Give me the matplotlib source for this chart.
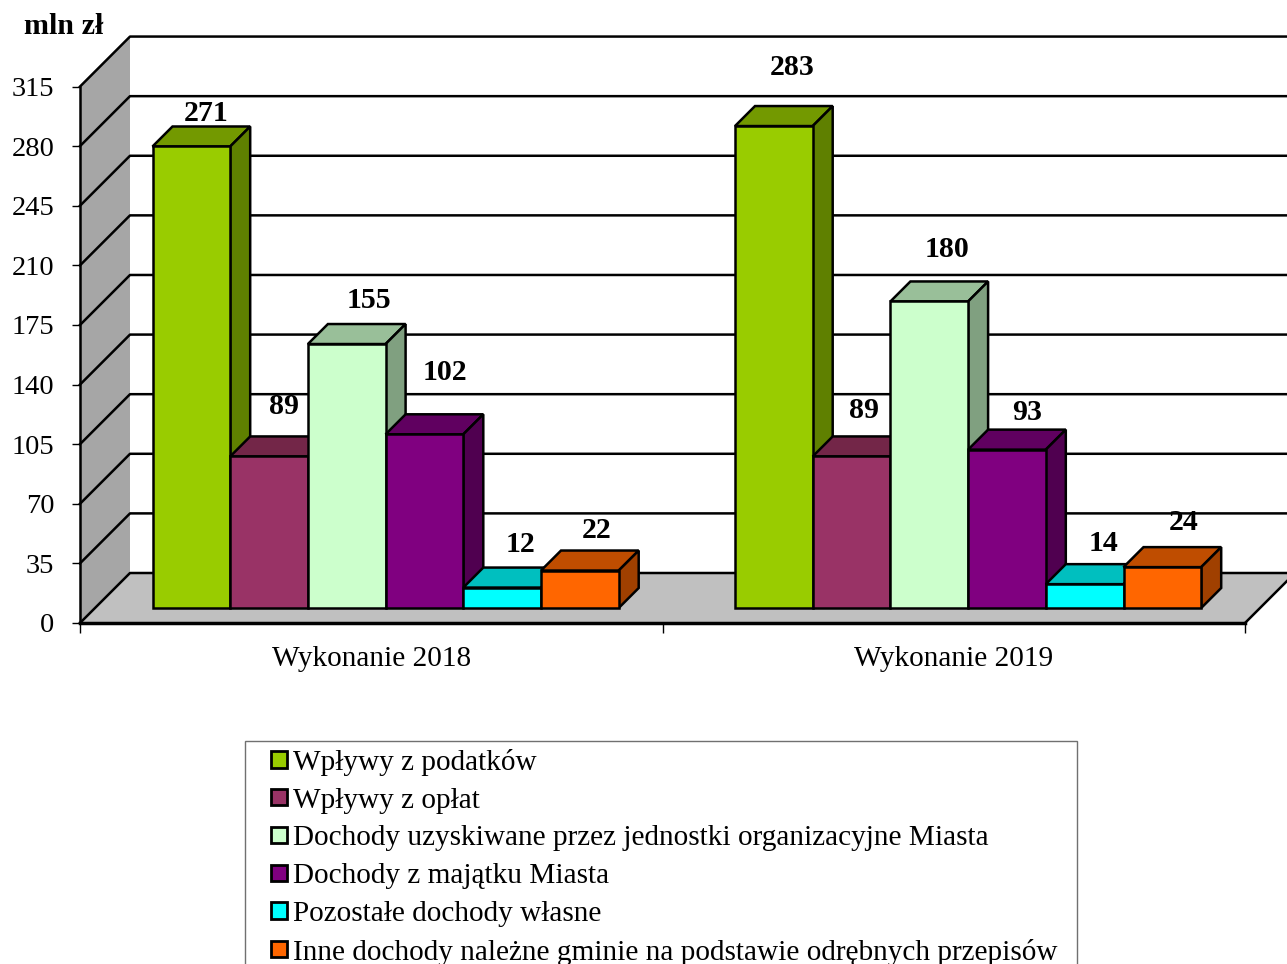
import numpy as np
import matplotlib
matplotlib.use("Agg")
import matplotlib.pyplot as plt
from matplotlib.patches import Patch, Polygon

plt.rcParams['font.family'] = ['Liberation Serif', 'DejaVu Sans']

groups = ["Wykonanie 2018", "Wykonanie 2019"]
series = ["Wpływy z podatków",
          "Wpływy z opłat",
          "Dochody uzyskiwane przez jednostki organizacyjne Miasta",
          "Dochody z majątku Miasta",
          "Pozostałe dochody własne",
          "Inne dochody należne gminie na podstawie odrębnych przepisów"]
values_2018 = [271, 89, 155, 102, 12, 22]
values_2019 = [283, 89, 180, 93, 14, 24]
yticks = [0, 35, 70, 105, 140, 175, 210, 245, 280, 315]

front = ['#99CC00', '#993366', '#CCFFCC', '#800080', '#00FFFF', '#FF6600']
top = ['#739900', '#732648', '#99BF99', '#600060', '#00BFBF', '#BF4D00']
side = ['#5F8000', '#5F1F3F', '#80A080', '#500050', '#009F9F', '#A04000']

# pixel scale of the picture, everything below is in category / value units
W, H = 1287, 964
px_x = 582.5      # px per category
px_y = 1.703      # px per value unit
x0, y0 = 80, 623  # origin in px

# label nudges in px from the middle of the bar top
label_dx = [[15, 14.5, 22, 20, 18.5, 17], [18, 12.5, 18, 20, 18.5, 21]]
label_dy = [[33, 50, 44, 62, 43, 40], [59, 46, 52, 37, 41, 45]]

fig = plt.figure(figsize=(W / 100, H / 100), dpi=100)
ax = fig.add_axes([0, 0, 1, 1])
ax.patch.set_alpha(0)
ax.set_xlim(-x0 / px_x, (W - x0) / px_x)
ax.set_ylim(-(H - y0) / px_y, y0 / px_y)

wall_dx = 50 / px_x
wall_dy = 50 / px_y
x_end = 2 + wall_dx

# back wall, side wall and floor
ax.fill([0, wall_dx, wall_dx, 0], [0, wall_dy, 315 + wall_dy, 315],
        color='#A6A6A6', lw=0, zorder=1)
ax.fill([0, wall_dx, x_end, 2], [0, wall_dy, wall_dy, 0],
        color='#C0C0C0', lw=0, zorder=1)
ax.plot([2, x_end], [0, wall_dy], color='k', lw=1.8, zorder=1.5)
for v in yticks:
    ax.plot([0, wall_dx, x_end], [v, v + wall_dy, v + wall_dy],
            color='k', lw=1.8, zorder=1.5)

# bars
bar_w = 77.7 / px_x
bar_x0 = 72.5 / px_x
base = 15 / px_y
bar_dx = 20 / px_x
bar_dy = 20 / px_y

for g, vals in enumerate([values_2018, values_2019]):
    for i, v in enumerate(vals):
        z = 3 + g * 10 + i
        xl = g + bar_x0 + i * bar_w
        xr = xl + bar_w
        t = base + v
        ax.bar(xl, v, bar_w, bottom=base, align='edge', color=front[i],
               edgecolor='k', lw=1.8, zorder=z + 0.2)
        ax.fill([xl, xl + bar_dx, xr + bar_dx, xr],
                [t, t + bar_dy, t + bar_dy, t],
                facecolor=top[i], edgecolor='k', lw=1.8, zorder=z + 0.1)
        ax.fill([xr, xr + bar_dx, xr + bar_dx, xr],
                [base, base + bar_dy, t + bar_dy, t],
                facecolor=side[i], edgecolor='k', lw=1.8, zorder=z + 0.1)
        ax.text((xl + xr) / 2 + label_dx[g][i] / px_x, t + label_dy[g][i] / px_y,
                str(v), ha='center', va='center', fontsize=21.5,
                fontweight='bold', color='k', zorder=40)

# axes
for s in ['top', 'right']:
    ax.spines[s].set_visible(False)
ax.spines['left'].set_position(('data', 0))
ax.spines['left'].set_bounds(0, 315)
ax.spines['left'].set_linewidth(1.8)
ax.spines['bottom'].set_position(('data', 0))
ax.spines['bottom'].set_bounds(0, 2)
ax.spines['bottom'].set_linewidth(2.5)
ax.spines['bottom'].set_zorder(2)
ax.set_yticks(yticks)
ax.set_xticks([0, 1, 2])
ax.set_xticklabels([])
ax.set_xticks([0.5, 1.5], minor=True)
ax.set_xticklabels(groups, minor=True, fontsize=21.1)
ax.tick_params(axis='x', which='minor', length=0, pad=16.5)
ax.tick_params(axis='x', which='major', length=7, width=1)
ax.tick_params(axis='y', length=6, width=1, labelsize=20.5, pad=12.5)

ax.text(-56 / px_x, 596 / px_y, "mln zł", fontsize=21.6, fontweight='bold',
        va='center', ha='left')

# legend box runs off the bottom of the picture, so it gets its own frame
frame = Polygon([(245 / W, -0.05), (245 / W, 1 - 741 / H),
                 (1077 / W, 1 - 741 / H), (1077 / W, -0.05)], closed=False,
                transform=fig.transFigure, facecolor='white',
                edgecolor='#707070', lw=1, zorder=50)
ax.add_patch(frame)

handles = [Patch(facecolor=c, edgecolor='k', lw=2) for c in front]
leg = ax.legend(handles, series, loc='upper left',
                bbox_to_anchor=(271 / W, 1 - 749 / H),
                bbox_transform=fig.transFigure, fontsize=21.1,
                frameon=False, borderaxespad=0, borderpad=0,
                labelspacing=0.40, handlelength=0.56, handleheight=0.48,
                handletextpad=0.18)
leg.set_zorder(60)

fig.savefig("out.png", dpi=100)
